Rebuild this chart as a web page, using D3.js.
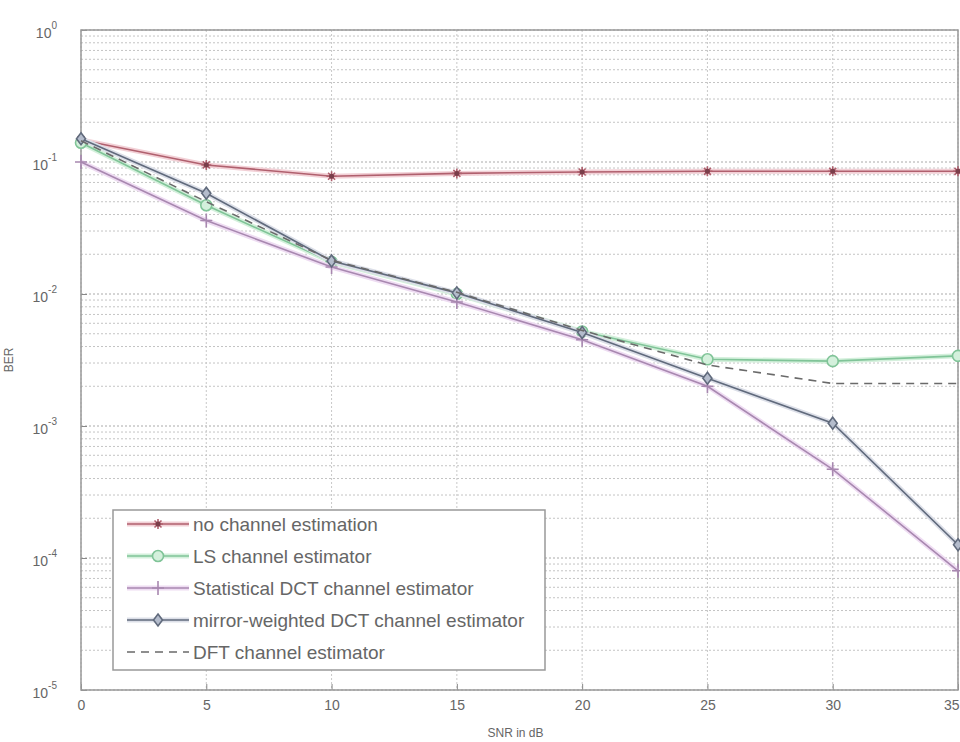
<!DOCTYPE html>
<html>
<head>
<meta charset="utf-8">
<script src="https://cdn.jsdelivr.net/npm/d3@7"></script>
<style>
  body { margin: 0; background: #fff; }
  text { font-family: "Liberation Sans", Arial, sans-serif; fill: #666; }
</style>
</head>
<body>
<div class="chart"></div>
<script>
var svgWidth = 960;
var svgHeight = 742;

var margin = { top: 30, right: 2, bottom: 52, left: 81 };
var width = svgWidth - margin.left - margin.right;
var height = svgHeight - margin.top - margin.bottom;

// data
var snr = [0, 5, 10, 15, 20, 25, 30, 35];
var noEst = [0.147, 0.095, 0.078, 0.082, 0.084, 0.085, 0.085, 0.085];
var lsEst = [0.14, 0.047, 0.0175, 0.0100, 0.0052, 0.0032, 0.0031, 0.0034];
var statDct = [0.10, 0.036, 0.0160, 0.0087, 0.0045, 0.0020, 0.00047, 0.00008];
var mirrorDct = [0.15, 0.058, 0.0178, 0.0102, 0.0051, 0.0023, 0.00105, 0.000126];
var dftEst = [0.145, 0.050, 0.0180, 0.0103, 0.0053, 0.0029, 0.0021, 0.0021];
var xTicks = [0, 5, 10, 15, 20, 25, 30, 35];
var yExps = [0, -1, -2, -3, -4, -5];

var series = [
  { name: "no channel estimation", values: noEst, color: "#b0606e", halo: "#f2d0d6", marker: "star", dash: null },
  { name: "LS channel estimator", values: lsEst, color: "#80c498", halo: "#d4f0dc", marker: "circle", dash: null },
  { name: "Statistical DCT channel estimator", values: statDct, color: "#a888b0", halo: "#eedcf2", marker: "plus", dash: null },
  { name: "mirror-weighted DCT channel estimator", values: mirrorDct, color: "#606a7c", halo: "#dcdfe8", marker: "diamond", dash: null },
  { name: "DFT channel estimator", values: dftEst, color: "#6a6a6a", halo: "none", marker: null, dash: "8,6" }
];

var svg = d3.select(".chart").append("svg")
  .attr("width", svgWidth)
  .attr("height", svgHeight);

var chartGroup = svg.append("g")
  .attr("transform", `translate(${margin.left}, ${margin.top})`);

var xScale = d3.scaleLinear().domain([0, 35]).range([0, width]);
var yScale = d3.scaleLog().domain([1e-5, 1]).range([height, 0]);

// grid: minor log lines
var minor = [];
yExps.slice(1).forEach(function(e) {
  for (var k = 2; k <= 9; k++) minor.push(k * Math.pow(10, e));
});
chartGroup.selectAll(".minor").data(minor).enter().append("line")
  .attr("x1", 0).attr("x2", width)
  .attr("y1", d => yScale(d)).attr("y2", d => yScale(d))
  .attr("stroke", "#c4c4c4").attr("stroke-dasharray", "2,2");

chartGroup.selectAll(".major").data(yExps).enter().append("line")
  .attr("x1", 0).attr("x2", width)
  .attr("y1", d => yScale(Math.pow(10, d))).attr("y2", d => yScale(Math.pow(10, d)))
  .attr("stroke", "#aaa").attr("stroke-dasharray", "2,2");

chartGroup.selectAll(".vgrid").data(xTicks).enter().append("line")
  .attr("x1", d => xScale(d)).attr("x2", d => xScale(d))
  .attr("y1", 0).attr("y2", height)
  .attr("stroke", "#c8c8c8").attr("stroke-dasharray", "2,2");

// axes
var bottomAxis = d3.axisBottom(xScale).tickValues(xTicks).tickSize(-6).tickPadding(10);
var xAxis = chartGroup.append("g")
  .attr("transform", `translate(0, ${height})`)
  .call(bottomAxis);
xAxis.select(".domain").remove();
xAxis.selectAll("line").attr("stroke", "#888");
xAxis.selectAll("text").attr("font-size", 14).attr("fill", "#666");
xAxis.selectAll(".tick").filter(d => d === 35).select("text").attr("text-anchor", "end").attr("dx", 1);

var leftAxis = d3.axisLeft(yScale).tickValues(yExps.map(e => Math.pow(10, e))).tickSize(-6).tickFormat("");
var yAxis = chartGroup.append("g").call(leftAxis);
yAxis.select(".domain").remove();
yAxis.selectAll("line").attr("stroke", "#888");

var yLabels = chartGroup.selectAll(".ylab").data(yExps).enter().append("text")
  .attr("x", -24)
  .attr("y", d => yScale(Math.pow(10, d)) + 8)
  .attr("text-anchor", "end")
  .attr("font-size", 14);
yLabels.append("tspan").text("10");
yLabels.append("tspan").attr("dy", -9).attr("font-size", 10).text(d => d);

// box
chartGroup.append("rect")
  .attr("width", width).attr("height", height)
  .attr("fill", "none").attr("stroke", "#999").attr("stroke-width", 1.5);

// axis titles
chartGroup.append("text")
  .attr("transform", "rotate(-90)")
  .attr("x", -height / 2).attr("y", -68)
  .attr("text-anchor", "middle").attr("font-size", 12)
  .text("BER");

chartGroup.append("text")
  .attr("x", width / 2 - 4).attr("y", height + 47)
  .attr("text-anchor", "middle").attr("font-size", 12)
  .text("SNR in dB");

// lines
var line = d3.line()
  .x((d, i) => xScale(snr[i]))
  .y(d => yScale(d));

function drawMarker(g, type, color) {
  if (type === "star") {
    g.append("path").attr("d", "M0,-5V5M-5,0H5M-3.5,-3.5L3.5,3.5M-3.5,3.5L3.5,-3.5").attr("stroke", color).attr("stroke-width", 1.6);
    g.append("circle").attr("r", 2.5).attr("fill", "#7a3e4a");
  } else if (type === "circle") {
    g.append("circle").attr("r", 5.5).attr("fill", "#d4f0dc").attr("stroke", color).attr("stroke-width", 1.6);
  } else if (type === "plus") {
    g.append("path").attr("d", "M0,-7V7M-6,0H6").attr("stroke", color).attr("stroke-width", 1.6);
  } else if (type === "diamond") {
    g.append("path").attr("d", "M0,-6L4.5,0L0,6L-4.5,0Z").attr("fill", "#b4bccc").attr("stroke", color).attr("stroke-width", 1.6);
  }
}

series.forEach(function(s) {
  if (s.halo !== "none") {
    chartGroup.append("path").datum(s.values)
      .attr("d", line).attr("fill", "none")
      .attr("stroke", s.halo).attr("stroke-width", 5);
  }
  chartGroup.append("path").datum(s.values)
    .attr("d", line).attr("fill", "none")
    .attr("stroke", s.color).attr("stroke-width", 1.6)
    .attr("stroke-dasharray", s.dash);
  if (s.marker) {
    s.values.forEach(function(v, i) {
      var g = chartGroup.append("g")
        .attr("transform", `translate(${xScale(snr[i])}, ${yScale(v)})`);
      drawMarker(g, s.marker, s.color);
    });
  }
});

// legend
var legend = chartGroup.append("g").attr("transform", `translate(${113 - margin.left}, ${510 - margin.top})`);
legend.append("rect")
  .attr("width", 432).attr("height", 160)
  .attr("fill", "#fff").attr("stroke", "#999").attr("stroke-width", 1.5);

series.forEach(function(s, i) {
  var yy = 14 + i * 32;
  var row = legend.append("g").attr("transform", `translate(0, ${yy})`);
  if (s.halo !== "none") {
    row.append("line").attr("x1", 14).attr("x2", 76).attr("y1", 0).attr("y2", 0)
      .attr("stroke", s.halo).attr("stroke-width", 5);
  }
  row.append("line").attr("x1", 14).attr("x2", 76).attr("y1", 0).attr("y2", 0)
    .attr("stroke", s.color).attr("stroke-width", 1.6).attr("stroke-dasharray", s.dash);
  if (s.marker) {
    var g = row.append("g").attr("transform", "translate(45,0)");
    drawMarker(g, s.marker, s.color);
  }
  row.append("text").attr("x", 80).attr("y", 7)
    .attr("font-size", 19).attr("fill", "#555")
    .text(s.name);
});
</script>
</body>
</html>
